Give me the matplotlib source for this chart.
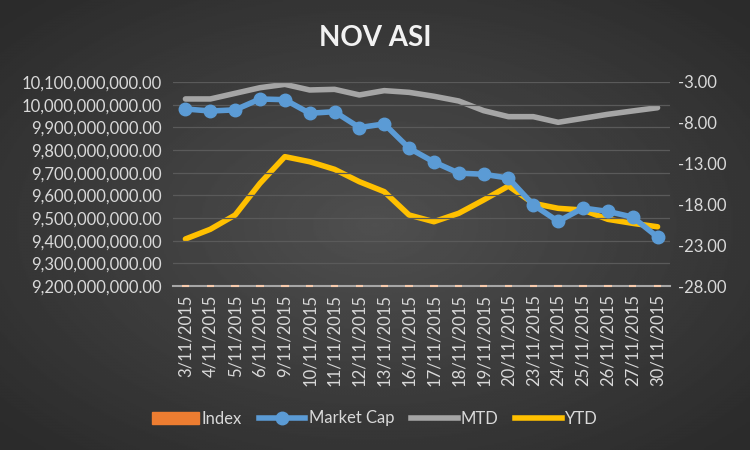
import numpy as np
import matplotlib
matplotlib.use('Agg')
import matplotlib.pyplot as plt
from matplotlib.patches import Patch
from matplotlib.lines import Line2D
from matplotlib.ticker import FuncFormatter

plt.rcParams['font.family'] = ['Lato', 'DejaVu Sans']

dates = ['3/11/2015', '4/11/2015', '5/11/2015', '6/11/2015', '9/11/2015',
         '10/11/2015', '11/11/2015', '12/11/2015', '13/11/2015', '16/11/2015',
         '17/11/2015', '18/11/2015', '19/11/2015', '20/11/2015', '23/11/2015',
         '24/11/2015', '25/11/2015', '26/11/2015', '27/11/2015', '30/11/2015']
# index level (far below the market cap axis, only shows as stubs)
index_vals = [29100, 29050, 29080, 29300, 29280, 29000, 29020, 28700, 28780, 28250,
              27950, 27700, 27680, 27600, 27050, 26700, 26950, 26880, 26760, 26300]
market_cap = [9.981e9, 9.972e9, 9.977e9, 10.025e9, 10.022e9, 9.962e9, 9.969e9, 9.899e9,
              9.915e9, 9.808e9, 9.747e9, 9.698e9, 9.693e9, 9.676e9, 9.558e9, 9.485e9,
              9.544e9, 9.529e9, 9.504e9, 9.416e9]
mtd = [-5.08, -5.08, -4.39, -3.70, -3.29, -3.98, -3.90, -4.59, -4.06, -4.27,
       -4.75, -5.33, -6.51, -7.25, -7.25, -7.94, -7.45, -6.96, -6.55, -6.15]
ytd = [-22.24, -21.05, -19.30, -15.42, -12.15, -12.77, -13.70, -15.22, -16.44, -19.30,
       -20.12, -19.09, -17.46, -15.75, -17.87, -18.48, -18.69, -19.83, -20.32, -20.74]

txt = '#d9d9d9'
fig = plt.figure(figsize=(7.5, 4.5), dpi=100)

# radial gradient background
bg = fig.add_axes([0, 0, 1, 1])
yy, xx = np.mgrid[-1:1:300j, -1:1:500j]
r = np.sqrt(xx**2 + yy**2)
bg.imshow(0.31 - 0.14 * np.clip(r / 1.35, 0, 1), cmap='gray', vmin=0, vmax=1,
          aspect='auto', extent=[0, 1, 0, 1])
bg.axis('off')

ax = fig.add_axes([0.2307, 0.3644, 0.6626, 0.4534])
ax.patch.set_alpha(0)
x = np.arange(len(dates))

ax.set_ylim(9.2e9, 10.1e9)
ax.set_yticks(np.arange(9.2e9, 10.1e9 + 1, 1e8))
ax.yaxis.set_major_formatter(FuncFormatter(lambda v, p: '{:,.2f}'.format(v)))
ax.bar(x, index_vals, width=0.3, bottom=9.2e9, color='#ED7D31',
       edgecolor='#F8CBAD', linewidth=1.5, zorder=5, clip_on=False)
ax.plot(x, market_cap, color='#5B9BD5', lw=4, marker='o', ms=9,
        solid_capstyle='round', zorder=3)
ax.set_xlim(-0.5, len(dates) - 0.5)
ax.grid(axis='y', color='#5a5a5a', lw=0.9)
ax.set_axisbelow(True)

ax2 = ax.twinx()
ax2.set_ylim(-28, -3)
ax2.set_yticks(np.arange(-28, -2, 5))
ax2.yaxis.set_major_formatter(FuncFormatter(lambda v, p: '{:.2f}'.format(v)))
ax2.plot(x, mtd, color='#A5A5A5', lw=4, solid_capstyle='round', zorder=3)
ax2.plot(x, ytd, color='#FFC000', lw=4, solid_capstyle='round', zorder=4)
ax.set_zorder(ax2.get_zorder() + 1)

for a in (ax, ax2):
    for s in a.spines.values():
        s.set_visible(False)
    a.tick_params(length=0, colors=txt, labelsize=12)
ax.spines['bottom'].set_visible(True)
ax.spines['bottom'].set_color('#a6a6a6')
ax.spines['bottom'].set_linewidth(1.5)
ax.set_xticks(x)
ax.set_xticklabels(dates, rotation=90, fontsize=12)
ax.tick_params(axis='x', pad=6)
ax.tick_params(axis='y', pad=8)
ax2.tick_params(axis='y', pad=6)

fig.text(0.5, 0.915, 'NOV ASI', ha='center', va='center', color='#f2f2f2',
         fontsize=20, fontweight='bold')

handles = [Patch(color='#ED7D31'),
           Line2D([], [], color='#5B9BD5', lw=4, marker='o', ms=9),
           Line2D([], [], color='#A5A5A5', lw=4),
           Line2D([], [], color='#FFC000', lw=4)]
fig.legend(handles, ['Index', 'Market Cap', 'MTD', 'YTD'], loc='center',
           bbox_to_anchor=(0.5, 0.07), ncol=4, frameon=False, labelcolor=txt,
           fontsize=12, handlelength=2.8, columnspacing=1.0, handletextpad=0.2)

fig.savefig('out.png', dpi=100)
